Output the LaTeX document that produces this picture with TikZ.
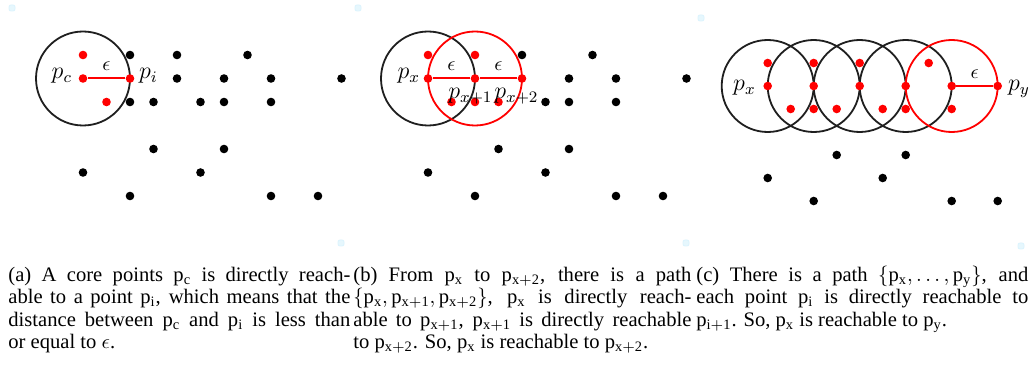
\documentclass[tikz,border=0pt]{standalone}
\usepackage{fix-cm}
\usepackage{fontspec}
\setmainfont{Liberation Serif}
\usetikzlibrary{positioning}

\newcommand\pv[1]{\ensuremath{\mathrm{p}_{\mathrm{#1}}}}
\newcommand\capline[1]{\hbox to\linewidth{#1}}

\begin{document}
\begin{tikzpicture}[
    x=0.5pt, y=-0.5pt,
    bdot/.style={circle,fill=black,inner sep=0pt,minimum size=4.3pt},
    rdot/.style={bdot,fill=red},
    ring/.style={draw=black!88,line width=0.9pt},
    redring/.style={draw=red,line width=0.9pt},
    link/.style={draw=red,line width=1pt},
    lbl/.style={inner sep=1pt,font=\fontsize{12}{14}\selectfont},
    eps/.style={font=\fontsize{10}{12}\selectfont},
    subcap/.style={anchor=base west,inner sep=0pt,font=\fontsize{10.3}{11.15}\selectfont},
    speck/.style={fill=cyan!10,draw=cyan!14,rounded corners=1pt,minimum size=3pt,inner sep=0pt}
]
\fill[white] (0,0) rectangle (1030,369);
\useasboundingbox (0,0) rectangle (1030,369);

% faint corner marks
\node[speck] (s1) at (12,8) {};
\node[speck] (s2) at (358,8) {};
\node[speck] (s3) at (701,18) {};
\node[speck] (s4) at (341,243) {};
\node[speck] (s5) at (686,243) {};
\node[speck] (s6) at (1021,246) {};

% (a) one core point
\begin{scope}[shift={(83,55)},x=11.75pt,y=-11.75pt]
\draw[ring] (0,1) circle[radius=2];
\foreach \i/\j in {2/0,4/0,7/0,4/1,6/1,8/1,11/1,2/2,3/2,5/2,6/2,8/2,
                   3/4,6/4,0/5,5/5,2/6,8/6,10/6}
    \node[bdot] (a-\i-\j) at (\i,\j) {};
\foreach \i/\j in {0/0,0/1,2/1,1/2}
    \node[rdot] (a-\i-\j) at (\i,\j) {};
\draw[link] (a-0-1) -- node[eps,above]{$\epsilon$} (a-2-1);
\node[lbl,base left=2pt of a-0-1] (pc) {$p_c$};
\node[lbl,base right=1pt of a-2-1] (pi) {$p_i$};
\end{scope}

% (b) path over two steps
\begin{scope}[shift={(428,55)},x=11.75pt,y=-11.75pt]
\draw[ring] (0,1) circle[radius=2];
\draw[redring] (2,1) circle[radius=2];
\foreach \i/\j in {4/0,7/0,6/1,8/1,11/1,5/2,6/2,8/2,
                   3/4,6/4,0/5,5/5,2/6,8/6,10/6}
    \node[bdot] (b-\i-\j) at (\i,\j) {};
\foreach \i/\j in {0/0,2/0,0/1,2/1,4/1,1/2,2/2,3/2}
    \node[rdot] (b-\i-\j) at (\i,\j) {};
\draw[link] (b-0-1) -- node[eps,above]{$\epsilon$} (b-2-1);
\draw[link] (b-2-1) -- node[eps,above]{$\epsilon$} (b-4-1);
\node[lbl,base left=0.5pt of b-0-1] (px) {$p_x$};
\node[lbl,anchor=base west] (px1) at ([xshift=-14.5pt,yshift=-10pt]b-2-1.center) {$p_{x+1}$};
\node[lbl,anchor=base west] (px2) at ([xshift=-15pt,yshift=-10pt]b-4-1.center) {$p_{x+2}$};
\end{scope}

% (c) chain of neighbourhoods
\begin{scope}[shift={(767.7,63)},x=11.5pt,y=-11.5pt]
\foreach \k in {0,2,4,6}
    \draw[ring] (\k,1) circle[radius=2];
\draw[redring] (8,1) circle[radius=2];
\foreach \i/\j in {3/4,6/4,0/5,5/5,2/6,8/6,10/6}
    \node[bdot] (c-\i-\j) at (\i,\j) {};
\foreach \i/\j in {0/0,2/0,4/0,7/0,0/1,2/1,4/1,6/1,8/1,10/1,
                   1/2,2/2,3/2,5/2,6/2,8/2}
    \node[rdot] (c-\i-\j) at (\i,\j) {};
\draw[link] (c-8-1) -- node[eps,above]{$\epsilon$} (c-10-1);
\node[lbl,base left=2.5pt of c-0-1,yshift=-2.5pt] (cx) {$p_x$};
\node[lbl,base right=1.6pt of c-10-1,yshift=-2.5pt] (cy) {$p_y$};
\end{scope}

% captions
\node[subcap] (capa) at (8,281.5) {\parbox[t]{171pt}{%
  \capline{(a) A core points \pv{c} is directly reach-}
  \capline{able to a point \pv{i}, which means that the}
  \capline{distance between \pv{c} and \pv{i} is less than}
  \capline{or equal to $\epsilon$.\hfil}}};
\node[subcap] (capb) at (353,281.5) {\parbox[t]{169pt}{%
  \capline{(b) From \pv{x} to \pv{x+2}, there is a path}
  \capline{$\{\pv{x}, \pv{x+1}, \pv{x+2}\}$, \pv{x} is directly reach-}
  \capline{able to \pv{x+1}, \pv{x+1} is directly reachable}
  \capline{to \pv{x+2}. So, \pv{x} is reachable to \pv{x+2}.\hfil}}};
\node[subcap] (capc) at (696,281.5) {\parbox[t]{166pt}{%
  \capline{(c) There is a path $\{\pv{x}, \ldots, \pv{y}\}$, and}
  \capline{each point \pv{i} is directly reachable to}
  \capline{\pv{i+1}. So, \pv{x} is reachable to \pv{y}.\hfil}}};

\end{tikzpicture}
\end{document}
